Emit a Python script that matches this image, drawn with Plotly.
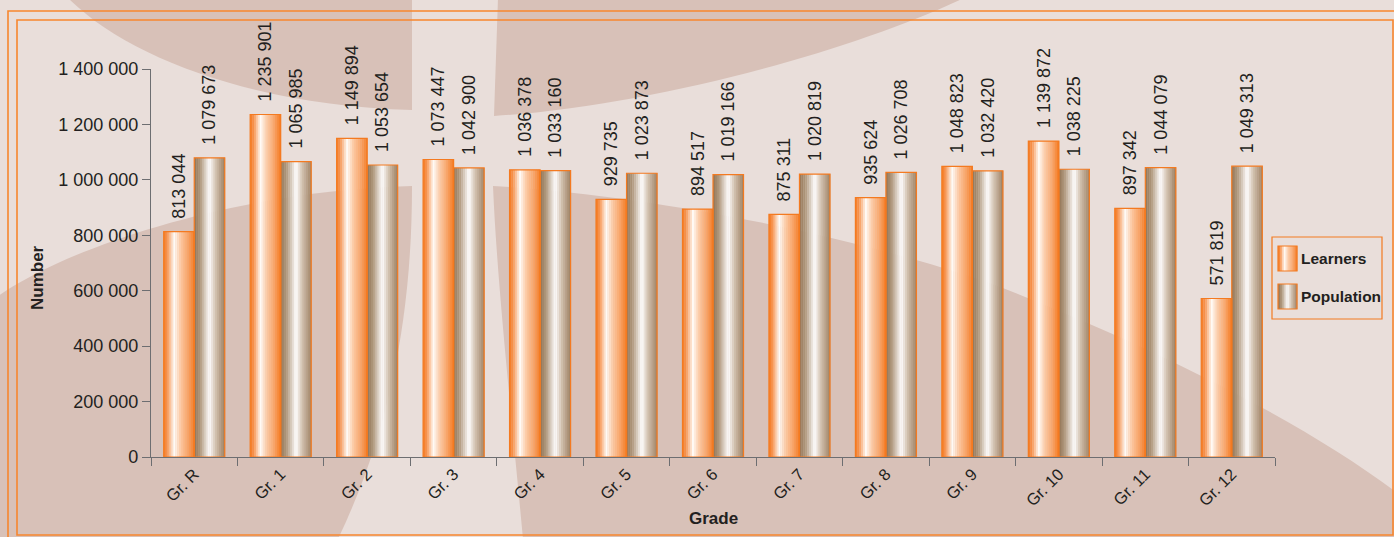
import plotly.graph_objects as go

# ---- data -------------------------------------------------------------
grades = ["Gr. R", "Gr. 1", "Gr. 2", "Gr. 3", "Gr. 4", "Gr. 5", "Gr. 6",
          "Gr. 7", "Gr. 8", "Gr. 9", "Gr. 10", "Gr. 11", "Gr. 12"]
learners = [813044, 1235901, 1149894, 1073447, 1036378, 929735, 894517,
            875311, 935624, 1048823, 1139872, 897342, 571819]
population = [1079673, 1065985, 1053654, 1042900, 1033160, 1023873, 1019166,
              1020819, 1026708, 1032420, 1038225, 1044079, 1049313]
y_ticks = [0, 200000, 400000, 600000, 800000, 1000000, 1200000, 1400000]

# ---- page geometry ------------------------------------------------------
W, H = 1394, 537
ML, MR, MT, MB = 151, 119, 69, 80
PW, PH = W - ML - MR, H - MT - MB

FONT = "Liberation Sans, Arial, sans-serif"
TXT = "#231F20"
ORANGE = "#F47A20"
BG_LIGHT = "#E9DEDA"
BG_DARK = "#D8C1B8"

LEARNER_STOPS = [(0.0, "#F47A22"), (0.12, "#F79552"), (0.34, "#FFFBF6"),
                 (0.55, "#FCC9A3"), (0.8, "#F8A265"), (1.0, "#F47A22")]
POP_STOPS = [(0.0, "#927455"), (0.2, "#B19A7F"), (0.5, "#FFFFFF"),
             (0.7, "#D2C2B0"), (1.0, "#9E8062")]


def hex_rgb(h):
    h = h.lstrip("#")
    return tuple(int(h[i:i + 2], 16) for i in (0, 2, 4))


def sample(stops, t):
    for (t0, c0), (t1, c1) in zip(stops[:-1], stops[1:]):
        if t0 <= t <= t1:
            f = 0 if t1 == t0 else (t - t0) / (t1 - t0)
            a, b = hex_rgb(c0), hex_rgb(c1)
            return "rgb(%d,%d,%d)" % tuple(round(a[i] + (b[i] - a[i]) * f) for i in range(3))
    return stops[-1][1]


def px(x, y):
    """pixel position on the page -> paper coordinates"""
    return (x - ML) / PW, (MT + PH - y) / PH


def path(segments):
    out = []
    for cmd, pts in segments:
        coords = " ".join("%.5f,%.5f" % px(x, y) for x, y in pts)
        out.append(cmd + (" " + coords if coords else ""))
    return " ".join(out)


# ---- bars: each bar is built from thin vertical colour strips ---------
BAR_W = 0.353
N_STRIPS = 16
strip_w = BAR_W / N_STRIPS

fig = go.Figure()

for values, stops, start in ((learners, LEARNER_STOPS, -BAR_W),
                             (population, POP_STOPS, 0.0)):
    for i in range(N_STRIPS):
        t = (i + 0.5) / N_STRIPS
        fig.add_trace(go.Bar(
            x=grades, y=values,
            width=strip_w * 1.15, offset=start + i * strip_w,
            marker=dict(color=sample(stops, t), line=dict(width=0)),
            hoverinfo="skip", showlegend=False,
        ))

for name, values, start in (("Learners", learners, -BAR_W),
                            ("Population", population, 0.0)):
    fig.add_trace(go.Bar(
        name=name, x=grades, y=values, width=BAR_W, offset=start,
        marker=dict(color="rgba(0,0,0,0)", line=dict(color=ORANGE, width=1.2)),
        texttemplate="\u00a0\u00a0%{y:,}", textposition="outside",
        textangle=-90, constraintext="none", cliponaxis=False,
        textfont=dict(family=FONT, size=18, color=TXT),
        showlegend=False,
    ))

# ---- background panels --------------------------------------------------
shapes = [
    dict(type="rect", xref="paper", yref="paper", layer="below",
         x0=px(0, 0)[0], y0=px(0, 0)[1], x1=px(W, H)[0], y1=px(W, H)[1],
         fillcolor=BG_LIGHT, line=dict(width=0)),
    dict(type="path", xref="paper", yref="paper", layer="below",
         fillcolor=BG_DARK, line=dict(width=0),
         path=path([("M", [(68, -2)]),
                    ("C", [(130, 60), (260, 106), (412, 110)]),
                    ("L", [(412, -2)]), ("Z", [])])),
    dict(type="path", xref="paper", yref="paper", layer="below",
         fillcolor=BG_DARK, line=dict(width=0),
         path=path([("M", [(498, -2)]), ("L", [(494, 116)]),
                    ("C", [(650, 106), (850, 52), (964, -2)]), ("Z", [])])),
    dict(type="path", xref="paper", yref="paper", layer="below",
         fillcolor=BG_DARK, line=dict(width=0),
         path=path([("M", [(-2, 296)]),
                    ("C", [(80, 240), (250, 190), (412, 186)]),
                    ("C", [(412, 300), (395, 420), (338, 539)]),
                    ("L", [(-2, 539)]), ("Z", [])])),
    dict(type="path", xref="paper", yref="paper", layer="below",
         fillcolor=BG_DARK, line=dict(width=0),
         path=path([("M", [(493, 186)]),
                    ("C", [(650, 195), (850, 235), (990, 283)]),
                    ("C", [(1150, 345), (1300, 420), (1396, 492)]),
                    ("L", [(1396, 539)]), ("L", [(523, 539)]),
                    ("C", [(510, 400), (497, 280), (493, 186)]), ("Z", [])])),
]

# double orange frame
for (x0, y0, x1, y1) in ((8, 11, 1402, 545), (17, 20, 1393, 535)):
    a, b = px(x0, y0), px(x1, y1)
    shapes.append(dict(type="rect", xref="paper", yref="paper", layer="below",
                       x0=a[0], y0=a[1], x1=b[0], y1=b[1],
                       fillcolor="rgba(0,0,0,0)",
                       line=dict(color="#F7862E", width=1.6)))

# ---- legend ------------------------------------------------------------
annotations = []
a, b = px(1272, 237), px(1382, 319)
shapes.append(dict(type="rect", xref="paper", yref="paper",
                   x0=a[0], y0=a[1], x1=b[0], y1=b[1],
                   fillcolor="rgba(0,0,0,0)", line=dict(color=ORANGE, width=1.2)))

for label, stops, top in (("Learners", LEARNER_STOPS, 246),
                          ("Population", POP_STOPS, 284)):
    sx0, sx1, sy1 = 1278, 1297, top + 25
    n = 10
    for i in range(n):
        t = (i + 0.5) / n
        p0 = px(sx0 + (sx1 - sx0) * i / n, top)
        p1 = px(sx0 + (sx1 - sx0) * (i + 1) / n + 0.3, sy1)
        shapes.append(dict(type="rect", xref="paper", yref="paper",
                           x0=p0[0], y0=p0[1], x1=p1[0], y1=p1[1],
                           fillcolor=sample(stops, t), line=dict(width=0)))
    p0, p1 = px(sx0, top), px(sx1, sy1)
    shapes.append(dict(type="rect", xref="paper", yref="paper",
                       x0=p0[0], y0=p0[1], x1=p1[0], y1=p1[1],
                       fillcolor="rgba(0,0,0,0)",
                       line=dict(color=ORANGE, width=1.2)))
    tx, ty = px(1299, top + 12.5)
    annotations.append(dict(xref="paper", yref="paper", x=tx, y=ty,
                            text="<b>%s</b>" % label, showarrow=False,
                            xanchor="left", yanchor="middle",
                            font=dict(family=FONT, size=15.5, color=TXT)))

# ---- axis titles ---------------------------------------------------------
tx, ty = px(37, 277)
annotations.append(dict(xref="paper", yref="paper", x=tx, y=ty,
                        text="<b>Number</b>", showarrow=False, textangle=-90,
                        xanchor="center", yanchor="middle",
                        font=dict(family=FONT, size=17, color=TXT)))
tx, ty = px(713, 518)
annotations.append(dict(xref="paper", yref="paper", x=tx, y=ty,
                        text="<b>Grade</b>", showarrow=False,
                        xanchor="center", yanchor="middle",
                        font=dict(family=FONT, size=17, color=TXT)))

fig.update_layout(
    width=W, height=H,
    margin=dict(l=ML, r=MR, t=MT, b=MB, pad=0),
    paper_bgcolor=BG_LIGHT, plot_bgcolor="rgba(0,0,0,0)",
    barmode="overlay", separators=". ",
    showlegend=False,
    shapes=shapes, annotations=annotations,
    font=dict(family=FONT, color=TXT),
)
fig.update_xaxes(
    type="category", range=[-0.5, len(grades) - 0.5],
    showline=True, linecolor="#6D6E71", linewidth=1.3,
    ticks="outside", tickson="boundaries", ticklen=8, tickcolor="#6D6E71",
    tickangle=-45, tickfont=dict(family=FONT, size=16.5, color=TXT),
    showgrid=False, zeroline=False,
)
fig.update_yaxes(
    range=[0, 1400000], tickvals=y_ticks, tickformat=",",
    showline=True, linecolor="#6D6E71", linewidth=1.3,
    ticks="outside", ticklen=8, tickcolor="#6D6E71",
    tickfont=dict(family=FONT, size=18, color=TXT),
    showgrid=False, zeroline=False,
)

fig.write_html("out.html")
